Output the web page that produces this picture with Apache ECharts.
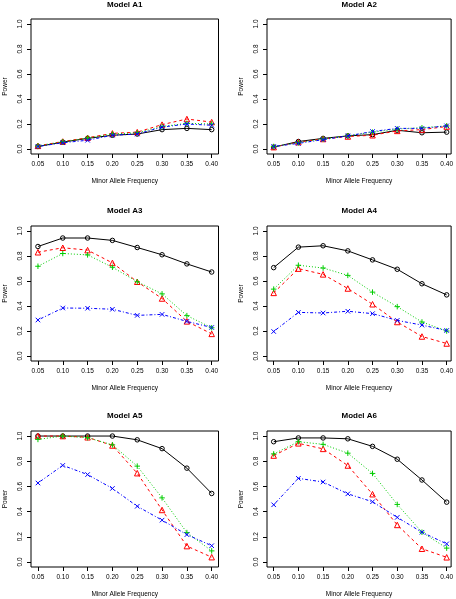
<!DOCTYPE html>
<html><head><meta charset="utf-8">
<script src="https://cdn.jsdelivr.net/npm/echarts@6/dist/echarts.min.js"></script>
<style>html,body{margin:0;padding:0;background:#fff}#c{width:456px;height:599px}</style>
</head><body><div id="c"></div>
<script>
// ---- data ----
const maf = [0.05, 0.10, 0.15, 0.20, 0.25, 0.30, 0.35, 0.40];
const xTicks = [0.05, 0.10, 0.15, 0.20, 0.25, 0.30, 0.35, 0.40];
const yTicks = [0, 0.2, 0.4, 0.6, 0.8, 1.0];
const panelTitles = ['Model A1', 'Model A2', 'Model A3', 'Model A4', 'Model A5', 'Model A6'];
const xName = 'Minor Allele Frequency';
const yName = 'Power';

const A1_circle   = [0.020, 0.055, 0.085, 0.110, 0.120, 0.155, 0.165, 0.155];
const A1_triangle = [0.025, 0.060, 0.090, 0.125, 0.135, 0.195, 0.240, 0.215];
const A1_plus     = [0.025, 0.058, 0.088, 0.120, 0.130, 0.180, 0.205, 0.200];
const A1_cross    = [0.020, 0.050, 0.070, 0.110, 0.120, 0.175, 0.200, 0.190];

const A2_circle   = [0.015, 0.060, 0.085, 0.105, 0.115, 0.150, 0.130, 0.135];
const A2_triangle = [0.015, 0.055, 0.080, 0.100, 0.110, 0.145, 0.155, 0.180];
const A2_plus     = [0.020, 0.050, 0.080, 0.105, 0.135, 0.160, 0.170, 0.185];
const A2_cross    = [0.020, 0.045, 0.075, 0.105, 0.140, 0.165, 0.165, 0.185];

const A3_circle   = [0.876, 0.944, 0.944, 0.925, 0.868, 0.810, 0.737, 0.672];
const A3_triangle = [0.830, 0.866, 0.847, 0.745, 0.594, 0.460, 0.277, 0.177];
const A3_plus     = [0.718, 0.820, 0.809, 0.710, 0.594, 0.497, 0.323, 0.226];
const A3_cross    = [0.288, 0.384, 0.382, 0.374, 0.325, 0.333, 0.277, 0.228];

const A4_circle   = [0.707, 0.871, 0.882, 0.841, 0.769, 0.694, 0.578, 0.489];
const A4_triangle = [0.505, 0.699, 0.653, 0.540, 0.414, 0.272, 0.156, 0.100];
const A4_plus     = [0.535, 0.726, 0.704, 0.645, 0.511, 0.395, 0.272, 0.200];
const A4_cross    = [0.196, 0.349, 0.344, 0.358, 0.339, 0.285, 0.247, 0.204];

const A5_circle   = [1.000, 1.000, 1.000, 1.000, 0.970, 0.900, 0.745, 0.544];
const A5_triangle = [1.000, 1.000, 0.990, 0.925, 0.705, 0.413, 0.126, 0.038];
const A5_plus     = [0.973, 1.000, 0.987, 0.930, 0.761, 0.509, 0.233, 0.088];
const A5_cross    = [0.627, 0.767, 0.694, 0.584, 0.442, 0.332, 0.217, 0.129];

const A6_circle   = [0.955, 0.985, 0.985, 0.978, 0.918, 0.816, 0.651, 0.475];
const A6_triangle = [0.845, 0.942, 0.898, 0.766, 0.538, 0.294, 0.105, 0.037];
const A6_plus     = [0.858, 0.955, 0.934, 0.864, 0.703, 0.457, 0.236, 0.110];
const A6_cross    = [0.454, 0.664, 0.635, 0.541, 0.478, 0.354, 0.236, 0.144];

const panels = [
  [A1_circle, A1_triangle, A1_plus, A1_cross],
  [A2_circle, A2_triangle, A2_plus, A2_cross],
  [A3_circle, A3_triangle, A3_plus, A3_cross],
  [A4_circle, A4_triangle, A4_plus, A4_cross],
  [A5_circle, A5_triangle, A5_plus, A5_cross],
  [A6_circle, A6_triangle, A6_plus, A6_cross]
];

// ---- layout / style ----
const cols = [
  {left: 31, width: 187.5, xmin: 0.036, xmax: 0.4137},
  {left: 267, width: 184.5, xmin: 0.0365, xmax: 0.409}
];
const rows = [
  {top: 19, height: 135, titleY: 5},
  {top: 226, height: 135, titleY: 211},
  {top: 431, height: 136, titleY: 416}
];
const FONT = 'Liberation Sans, Arial, Helvetica, sans-serif';
const styles = [
  {color: '#000000', symbol: 'circle', size: 4.5, type: 'solid'},
  {color: '#FF0000', symbol: 'triangle', size: 5.5, type: [3, 3]},
  {color: '#00CD00', symbol: 'path://M5,0L5,10M0,5L10,5', size: 5.5, type: [1, 2]},
  {color: '#0000FF', symbol: 'path://M0,0L10,10M10,0L0,10', size: 4.5, type: [1, 2, 3, 2]}
];

const grids = [], xAxes = [], yAxes = [], series = [], graphics = [];
panels.forEach((p, i) => {
  const c = cols[i % 2], r = rows[Math.floor(i / 2)];
  grids.push({left: c.left, top: r.top, width: c.width, height: r.height,
    show: true, borderColor: '#000', borderWidth: 1, backgroundColor: '#fff', containLabel: false});
  xAxes.push({type: 'value', gridIndex: i, min: c.xmin, max: c.xmax,
    axisLine: {show: false, onZero: false}, splitLine: {show: false},
    axisTick: {show: true, inside: false, length: 4, customValues: xTicks, lineStyle: {color: '#000', width: 1}},
    axisLabel: {customValues: xTicks, formatter: v => v.toFixed(2), fontSize: 6.5, fontFamily: FONT, color: '#000', margin: 7},
    name: xName, nameLocation: 'middle', nameGap: 24,
    nameTextStyle: {fontSize: 6.5, fontFamily: FONT, color: '#000'}});
  yAxes.push({type: 'value', gridIndex: i, min: -0.04, max: 1.04,
    axisLine: {show: false, onZero: false}, splitLine: {show: false},
    axisTick: {show: true, inside: false, length: 4, customValues: yTicks, lineStyle: {color: '#000', width: 1}},
    axisLabel: {customValues: yTicks, formatter: v => v.toFixed(1), rotate: 90, fontSize: 6.5, fontFamily: FONT, color: '#000', margin: 7},
    name: yName, nameLocation: 'middle', nameGap: 22, nameRotate: 90,
    nameTextStyle: {fontSize: 6.5, fontFamily: FONT, color: '#000'}});
  p.forEach((vals, k) => {
    const s = styles[k];
    series.push({type: 'line', xAxisIndex: i, yAxisIndex: i,
      data: maf.map((x, j) => [x, vals[j]]),
      symbol: s.symbol, symbolSize: s.size, showSymbol: true, showAllSymbol: true,
      lineStyle: {color: s.color, width: 1, type: s.type},
      itemStyle: {color: 'rgba(0,0,0,0)', borderColor: s.color, borderWidth: 1},
      emphasis: {disabled: true}, silent: true, animation: false, z: 2 + k});
  });
  graphics.push({type: 'text', x: c.left + c.width / 2, y: r.titleY,
    style: {text: panelTitles[i], fill: '#000', font: 'bold 8px ' + FONT, textAlign: 'center', textVerticalAlign: 'middle'}});
});

const chart = echarts.init(document.getElementById('c'), null, {renderer: 'canvas'});
chart.setOption({
  backgroundColor: '#fff',
  animation: false,
  grid: grids, xAxis: xAxes, yAxis: yAxes, series: series, graphic: graphics
});
</script>
</body></html>
